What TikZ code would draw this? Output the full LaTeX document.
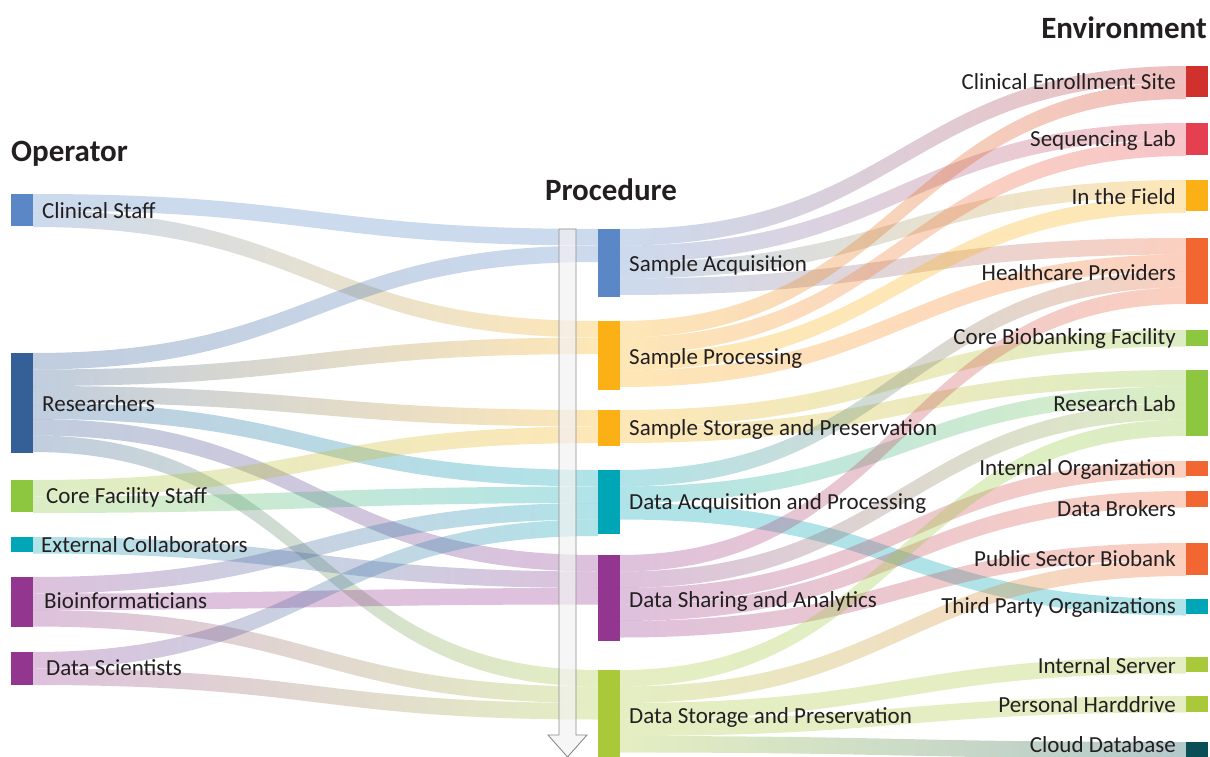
\documentclass[tikz,border=0pt]{standalone}
\usepackage{fontspec}
\setmainfont{Carlito}
\usetikzlibrary{calc,backgrounds}

\definecolor{cBlue}{HTML}{5B87C6}
\definecolor{cNavy}{HTML}{355F97}
\definecolor{cGreen}{HTML}{8DC63F}
\definecolor{cTeal}{HTML}{00A6B6}
\definecolor{cPurple}{HTML}{93368F}
\definecolor{cOrange}{HTML}{FBB116}
\definecolor{cLime}{HTML}{A9C93A}
\definecolor{cRed}{HTML}{D0312D}
\definecolor{cRose}{HTML}{E5404F}
\definecolor{cVermil}{HTML}{F26631}
\definecolor{cDeep}{HTML}{0A4F55}
\definecolor{cText}{HTML}{231F20}
\definecolor{cArrow}{HTML}{8C8C8C}

% thickness of one flow band
\newcommand\ut{16.5pt}
% \band{source}{slot}{target}{slot}{source colour}{target colour}
\newcommand\band[6]{%
  \path[flowband, left color=#5, right color=#6]
    let \p1=($(#1.north east)+(0pt,{-#2*\ut})$),
        \p2=($(#3.north west)+(0pt,{-#4*\ut})$),
        \n1={(\x1+\x2)/2}
    in (\x1,\y1) .. controls (\n1,\y1) and (\n1,\y2) .. (\x2,\y2)
       -- (\x2,{\y2-\ut}) .. controls (\n1,{\y2-\ut}) and (\n1,{\y1-\ut}) .. (\x1,{\y1-\ut}) -- cycle;}

\tikzset{
  flowband/.style={fill opacity=0.31},
  bar/.style={draw=none, inner sep=0pt, outer sep=0pt, minimum width=22pt, anchor=north west},
  lab/.style={font=\fontsize{23}{25}\selectfont, text=cText, inner sep=0pt},
  llab/.style={lab, anchor=west},
  rlab/.style={lab, anchor=east},
  head/.style={font=\fontsize{31}{33}\selectfont\bfseries, text=cText, inner sep=0pt},
}

\begin{document}
\begin{tikzpicture}[x=1pt,y=-1pt]
\useasboundingbox (0,0) rectangle (1210,757);

% ---- Operator column
\node[bar, fill=cBlue,   minimum height=32pt]  (cs) at (11,194) {};
\node[bar, fill=cNavy,   minimum height=100pt] (rs) at (11,353) {};
\node[bar, fill=cGreen,  minimum height=32pt]  (cf) at (11,480) {};
\node[bar, fill=cTeal,   minimum height=15pt]  (ec) at (11,537) {};
\node[bar, fill=cPurple, minimum height=50pt]  (bi) at (11,577) {};
\node[bar, fill=cPurple, minimum height=33pt]  (ds) at (11,652) {};

% ---- Procedure column
\node[bar, fill=cBlue,   minimum height=68pt]  (sa)  at (598,229) {};
\node[bar, fill=cOrange, minimum height=69pt]  (sp)  at (598,321) {};
\node[bar, fill=cOrange, minimum height=36pt]  (ssp) at (598,410) {};
\node[bar, fill=cTeal,   minimum height=64pt]  (dap) at (598,470) {};
\node[bar, fill=cPurple, minimum height=86pt]  (dsa) at (598,555) {};
\node[bar, fill=cLime,   minimum height=90pt]  (dsp) at (598,670) {};

% ---- Environment column
\node[bar, fill=cRed,    minimum height=31pt] (ces) at (1186,66) {};
\node[bar, fill=cRose,   minimum height=32pt] (sl)  at (1186,123) {};
\node[bar, fill=cOrange, minimum height=31pt] (itf) at (1186,180) {};
\node[bar, fill=cVermil, minimum height=66pt] (hp)  at (1186,238) {};
\node[bar, fill=cGreen,  minimum height=16pt] (cbf) at (1186,330) {};
\node[bar, fill=cGreen,  minimum height=66pt] (rl)  at (1186,370) {};
\node[bar, fill=cVermil, minimum height=15pt] (io)  at (1186,461) {};
\node[bar, fill=cVermil, minimum height=16pt] (db)  at (1186,491) {};
\node[bar, fill=cVermil, minimum height=32pt] (psb) at (1186,543) {};
\node[bar, fill=cTeal,   minimum height=15pt] (tpo) at (1186,599) {};
\node[bar, fill=cLime,   minimum height=15pt] (is)  at (1186,657) {};
\node[bar, fill=cLime,   minimum height=16pt] (ph)  at (1186,696) {};
\node[bar, fill=cDeep,   minimum height=20pt] (cd)  at (1186,742) {};

\begin{scope}[on background layer]
% ---- flows: operator -> procedure
\band{cs}{0}{sa}{0}{cBlue}{cBlue}
\band{cs}{1}{sp}{0}{cBlue}{cOrange}
\band{rs}{0}{sa}{1}{cNavy}{cBlue}
\band{rs}{1}{sp}{1}{cNavy}{cOrange}
\band{rs}{2}{ssp}{0}{cNavy}{cOrange}
\band{rs}{3}{dap}{0}{cNavy}{cTeal}
\band{rs}{4}{dsa}{0}{cNavy}{cPurple}
\band{rs}{5}{dsp}{0}{cNavy}{cLime}
\band{cf}{0}{ssp}{1}{cGreen}{cOrange}
\band{cf}{1}{dap}{1}{cGreen}{cTeal}
\band{ec}{0}{dsa}{1}{cTeal}{cPurple}
\band{bi}{0}{dap}{2}{cPurple}{cTeal}
\band{bi}{1}{dsa}{2}{cPurple}{cPurple}
\band{bi}{2}{dsp}{1}{cPurple}{cLime}
\band{ds}{0}{dap}{3}{cPurple}{cTeal}
\band{ds}{1}{dsp}{2}{cPurple}{cLime}

% ---- flows: procedure -> environment
\band{sa}{0}{ces}{0}{cBlue}{cRed}
\band{sa}{1}{sl}{0}{cBlue}{cRose}
\band{sa}{2}{itf}{0}{cBlue}{cOrange}
\band{sa}{3}{hp}{0}{cBlue}{cVermil}
\band{sp}{0}{ces}{1}{cOrange}{cRed}
\band{sp}{1}{sl}{1}{cOrange}{cRose}
\band{sp}{2}{itf}{1}{cOrange}{cOrange}
\band{sp}{3}{hp}{1}{cOrange}{cVermil}
\band{ssp}{0}{cbf}{0}{cOrange}{cGreen}
\band{ssp}{1}{rl}{0}{cOrange}{cGreen}
\band{dap}{0}{hp}{2}{cTeal}{cVermil}
\band{dap}{1}{rl}{1}{cTeal}{cGreen}
\band{dap}{2}{tpo}{0}{cTeal}{cTeal}
\band{dsa}{0}{hp}{3}{cPurple}{cVermil}
\band{dsa}{1}{rl}{2}{cPurple}{cGreen}
\band{dsa}{2}{io}{0}{cPurple}{cVermil}
\band{dsa}{3}{db}{0}{cPurple}{cVermil}
\band{dsa}{4}{psb}{0}{cPurple}{cVermil}
\band{dsp}{0}{rl}{3}{cLime}{cGreen}
\band{dsp}{1}{psb}{1}{cLime}{cVermil}
\band{dsp}{2}{is}{0}{cLime}{cLime}
\band{dsp}{3}{ph}{0}{cLime}{cLime}
\band{dsp}{4}{cd}{0}{cLime}{cDeep}
\end{scope}

% ---- procedure sequence arrow
\path[draw=cArrow, line width=0.9pt, fill=white!95!black, fill opacity=0.7]
  (559,229) -- (576,229) -- (576,735) -- (587,735) -- (567.5,757)
  -- (548,735) -- (559,735) -- cycle;

% ---- column headings
\node[head, anchor=west] (hop) at (11,154) {Operator};
\node[head] (hpr) at (611,190) {Procedure};
\node[head, anchor=east] (hen) at (1207,28) {Environment};

% ---- operator labels
\node[llab] (cs-l) at (42,211) {Clinical Staff};
\node[llab] (rs-l) at (42,404) {Researchers};
\node[llab] (cf-l) at (46,497) {Core Facility Staff};
\node[llab] (ec-l) at (41,545) {External Collaborators};
\node[llab] (bi-l) at (44,601) {Bioinformaticians};
\node[llab] (ds-l) at (46,668) {Data Scientists};

% ---- procedure labels
\node[llab] (sa-l)  at (629,265) {Sample Acquisition};
\node[llab] (sp-l)  at (629,358) {Sample Processing};
\node[llab] (ssp-l) at (629,429) {Sample Storage and Preservation};
\node[llab] (dap-l) at (629,503) {Data Acquisition and Processing};
\node[llab] (dsa-l) at (629,601) {Data Sharing and Analytics};
\node[llab] (dsp-l) at (629,717) {Data Storage and Preservation};

% ---- environment labels
\node[rlab] (ces-l) at (1176,82)  {Clinical Enrollment Site};
\node[rlab] (sl-l)  at (1176,140) {Sequencing Lab};
\node[rlab] (itf-l) at (1176,197) {In the Field};
\node[rlab] (hp-l)  at (1176,273) {Healthcare Providers};
\node[rlab] (cbf-l) at (1176,338) {Core Biobanking Facility};
\node[rlab] (rl-l)  at (1176,404) {Research Lab};
\node[rlab] (io-l)  at (1176,469) {Internal Organization};
\node[rlab] (db-l)  at (1176,509) {Data Brokers};
\node[rlab] (psb-l) at (1176,559) {Public Sector Biobank};
\node[rlab] (tpo-l) at (1176,607) {Third Party Organizations};
\node[rlab] (is-l)  at (1176,666) {Internal Server};
\node[rlab] (ph-l)  at (1176,705) {Personal Harddrive};
\node[rlab] (cd-l)  at (1176,745) {Cloud Database};
\end{tikzpicture}
\end{document}
